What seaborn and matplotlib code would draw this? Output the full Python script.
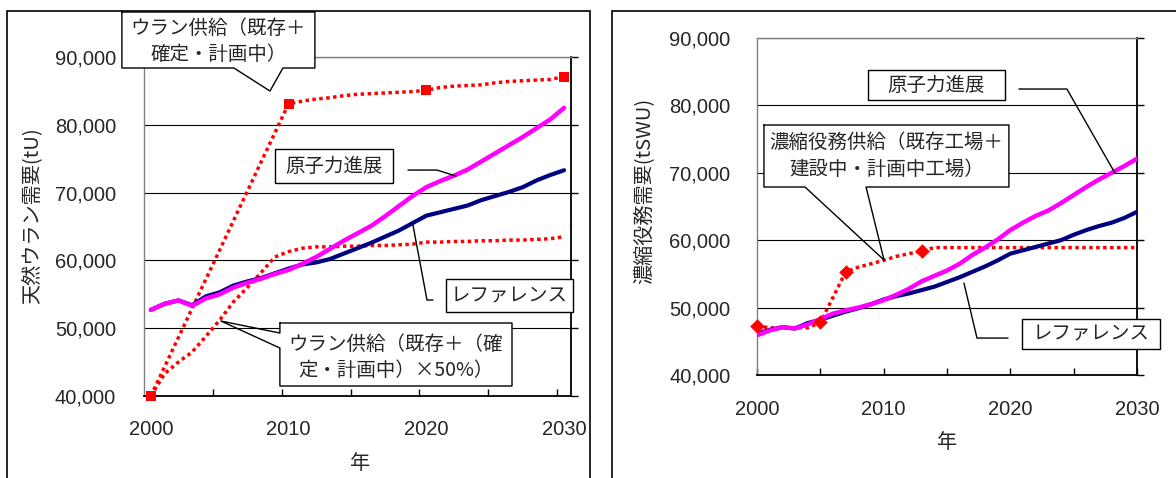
import matplotlib
matplotlib.use("Agg")
import matplotlib.pyplot as plt
import seaborn as sns
from matplotlib.patches import Rectangle
from matplotlib.lines import Line2D
from matplotlib.ticker import FixedLocator, StrMethodFormatter

# ---------------- data ----------------
years = list(range(2000, 2031))

# natural uranium demand (tU)
uranium_reference = [52700, 53600, 54100, 53400, 54700, 55300, 56300, 56900, 57400, 58100,
                     58800, 59400, 59700, 60200, 61000, 61800, 62600, 63500, 64400, 65500,
                     66600, 67100, 67600, 68100, 68900, 69500, 70100, 70800, 71800, 72600,
                     73300]
uranium_advanced = [52700, 53600, 54100, 53300, 54400, 55000, 56000, 56700, 57300, 58000,
                    58600, 59500, 60500, 61700, 62900, 64000, 65100, 66500, 68000, 69500,
                    70800, 71700, 72500, 73400, 74600, 75800, 77000, 78200, 79500, 80800,
                    82500]
uranium_supply_years = [2000] + list(range(2010, 2031))
uranium_supply = [40000,
                  83100, 83500, 83800, 84000, 84300, 84500, 84600, 84700, 84800, 84900,
                  85100, 85500, 85700, 85800, 85900, 86200, 86400, 86500, 86600, 86700,
                  87100]
uranium_supply_marker_years = [2000, 2010, 2020, 2030]
uranium_supply_half = [40000, 43300, 45000, 46500, 48800, 51200, 53900, 56000, 58200, 60500,
                       61300, 61800, 62000, 62000, 62100, 62100, 62200, 62200, 62300, 62400,
                       62700, 62700, 62800, 62800, 62900, 62900, 63000, 63000, 63100, 63200,
                       63500]

# enrichment service demand (tSWU)
enrich_reference = [46100, 46700, 47100, 46900, 47700, 48200, 48800, 49400, 49900, 50500,
                    51200, 51700, 52100, 52600, 53100, 53800, 54500, 55300, 56100, 57000,
                    58000, 58500, 59000, 59500, 60000, 60800, 61500, 62100, 62600, 63300,
                    64200]
enrich_advanced = [45900, 46600, 47100, 46900, 47500, 48300, 49100, 49600, 50000, 50500,
                   51100, 51900, 52800, 53900, 54700, 55500, 56500, 57800, 58900, 60100,
                   61500, 62600, 63600, 64400, 65500, 66700, 67900, 69000, 70000, 71000,
                   72100]
enrich_supply = [47300, 47000, 47000, 47000, 47000, 47800, 51500, 55300, 56000, 56500,
                 57000, 57600, 58000, 58400, 58900, 58900, 58900, 58900, 58900, 58900,
                 58900, 58900, 58900, 58900, 58900, 58900, 58900, 58900, 58900, 58900,
                 58900]
enrich_supply_marker_years = [2000, 2005, 2007, 2013]

y_ticks = [40000, 50000, 60000, 70000, 80000, 90000]
x_label_ticks = [2000, 2010, 2020, 2030]

NAVY = "#000080"
PINK = "#FF00FF"
RED = "#FF0000"
DOTS = (0, (1, 1))
CJK = ["Noto Sans CJK JP", "DejaVu Sans"]

# ---------------- style ----------------
sns.set_style("white")
plt.rcParams["font.family"] = ["Liberation Sans", "Noto Sans CJK JP", "DejaVu Sans"]

fig = plt.figure(figsize=(11.76, 4.78), dpi=100)
axL = fig.add_axes([0.1224, 0.1715, 0.3631, 0.7092])
axR = fig.add_axes([0.6437, 0.2155, 0.3231, 0.7050])

# panel frames
fig.add_artist(Rectangle((0.006, -0.1), 0.4957, 1.077, transform=fig.transFigure,
                         fill=False, edgecolor="black", linewidth=1.2))
fig.add_artist(Rectangle((0.5204, -0.1), 0.6, 1.077, transform=fig.transFigure,
                         fill=False, edgecolor="black", linewidth=1.2))


def style_axes(ax, ylabel, ylabel_pos, xlabel_pos, pad):
    ax.set_ylim(40000, 90000)
    ax.yaxis.set_major_locator(FixedLocator(y_ticks))
    ax.yaxis.set_major_formatter(StrMethodFormatter("{x:,.0f}"))
    ax.grid(axis="y", color="black", linewidth=0.8)
    ax.grid(axis="x", visible=False)
    for side in ["left", "top"]:
        ax.spines[side].set_color("#808080")
        ax.spines[side].set_linewidth(1.0)
    for side in ["right", "bottom"]:
        ax.spines[side].set_color("black")
        ax.spines[side].set_linewidth(1.3)
    ax.tick_params(axis="y", which="major", left=False, right=True, direction="out",
                   length=5, width=1, color="black", labelleft=True, labelright=False,
                   labelsize=14.5, pad=pad)
    ax.set_ylabel(ylabel, fontsize=14.5, family=CJK)
    ax.yaxis.label.set_va("center")
    ax.yaxis.set_label_coords(*ylabel_pos)
    ax.set_xlabel("年", fontsize=14.5, family=CJK)
    ax.xaxis.label.set_va("center")
    ax.xaxis.set_label_coords(*xlabel_pos)


def simple_box(ax, x0, x1, y0, y1, text, leader):
    ax.add_patch(Rectangle((x0, y0), x1 - x0, y1 - y0, facecolor="white",
                           edgecolor="black", linewidth=1.0, clip_on=False, zorder=6))
    ax.add_line(Line2D([p[0] for p in leader], [p[1] for p in leader], color="black",
                       linewidth=1.0, clip_on=False, zorder=6))
    ax.text((x0 + x1) / 2, (y0 + y1) / 2, text, ha="center", va="center", fontsize=14,
            family=CJK, zorder=8, linespacing=1.35)


def wedge_box(ax, x0, x1, y0, y1, text, outline, text_xy=None):
    ax.add_patch(Rectangle((x0, y0), x1 - x0, y1 - y0, facecolor="white",
                           edgecolor="none", clip_on=False, zorder=6))
    ax.add_line(Line2D([p[0] for p in outline], [p[1] for p in outline], color="black",
                       linewidth=1.0, clip_on=False, zorder=7))
    if text_xy is None:
        text_xy = ((x0 + x1) / 2, (y0 + y1) / 2)
    ax.text(text_xy[0], text_xy[1], text, ha="center", va="center", fontsize=14,
            family=CJK, zorder=8, linespacing=1.35)


# ---------------- left: natural uranium ----------------
sns.lineplot(x=years, y=uranium_supply_half, ax=axL, color=RED, linewidth=2.5,
             linestyle=DOTS, zorder=3)
sns.lineplot(x=uranium_supply_years, y=uranium_supply, ax=axL, color=RED, linewidth=2.5,
             linestyle=DOTS, zorder=3)
sns.lineplot(x=years, y=uranium_reference, ax=axL, color=NAVY, linewidth=3, zorder=4)
sns.lineplot(x=years, y=uranium_advanced, ax=axL, color=PINK, linewidth=3.2, zorder=4.5)
mk_vals = [uranium_supply[uranium_supply_years.index(y)] for y in uranium_supply_marker_years]
sns.scatterplot(x=uranium_supply_marker_years, y=mk_vals, ax=axL, marker="s", s=60,
                color=RED, edgecolor=RED, linewidth=0, zorder=5, clip_on=False)

axL.set_xlim(1999.5, 2030.5)
axL.xaxis.set_major_locator(FixedLocator(x_label_ticks))
axL.xaxis.set_minor_locator(FixedLocator([2004.5, 2009.5, 2014.5, 2019.5, 2024.5, 2029.5]))
axL.tick_params(axis="x", which="major", bottom=True, length=0, labelsize=14.5, pad=17)
axL.tick_params(axis="x", which="minor", bottom=True, direction="in", length=5, width=1,
                color="black")
style_axes(axL, "天然ウラン需要(tU)", (-0.262, 0.531), (0.506, -0.198), 15)

# callouts (left)
wedge_box(axL, 1997.9, 2011.91, 88380, 96640, "ウラン供給（既存＋\n確定・計画中）",
          [(1997.9, 96640), (2011.91, 96640), (2011.91, 88380), (2009.59, 88380),
           (2008.65, 84985), (2006.03, 88380), (1997.9, 88380), (1997.9, 96640)],
          text_xy=(2004.91, 92290))
simple_box(axL, 2009.01, 2017.58, 71415, 76430, "原子力進展",
           [(2018.67, 73330), (2020.77, 73330), (2022.15, 72450)])
simple_box(axL, 2021.43, 2030.65, 52390, 57260, "レファレンス",
           [(2020.48, 54160), (2020.05, 54160), (2019.03, 65220)])
wedge_box(axL, 2009.37, 2026.22, 41480, 50770, "ウラン供給（既存＋（確\n定・計画中）×50%）",
          [(2009.37, 50770), (2026.22, 50770), (2026.22, 41480), (2009.37, 41480),
           (2009.37, 47080), (2005.09, 51060), (2009.37, 49290), (2009.37, 50770)],
          text_xy=(2017.8, 45680))

# ---------------- right: enrichment ----------------
sns.lineplot(x=years, y=enrich_supply, ax=axR, color=RED, linewidth=2.5,
             linestyle=DOTS, zorder=3)
sns.lineplot(x=years, y=enrich_reference, ax=axR, color=NAVY, linewidth=3, zorder=4)
sns.lineplot(x=years, y=enrich_advanced, ax=axR, color=PINK, linewidth=3.2, zorder=4.5)
mk_vals = [enrich_supply[years.index(y)] for y in enrich_supply_marker_years]
sns.scatterplot(x=enrich_supply_marker_years, y=mk_vals, ax=axR, marker="D", s=55,
                color=RED, edgecolor=RED, linewidth=0, zorder=5, clip_on=False)

axR.set_xlim(2000, 2030)
axR.xaxis.set_major_locator(FixedLocator(x_label_ticks))
axR.xaxis.set_minor_locator(FixedLocator([2005, 2015, 2025]))
axR.tick_params(axis="x", which="both", bottom=True, direction="in", length=5, width=1,
                color="black")
axR.tick_params(axis="x", which="major", labelsize=14.5, pad=18)
style_axes(axR, "濃縮役務需要(tSWU)", (-0.295, 0.546), (0.5, -0.199), 14)

# callouts (right)
simple_box(axR, 2008.76, 2019.58, 80800, 85250, "原子力進展",
           [(2020.68, 82430), (2024.47, 82430), (2028.26, 69970)])
wedge_box(axR, 2000.55, 2019.89, 67890, 77090, "濃縮役務供給（既存工場＋\n建設中・計画中工場）",
          [(2000.55, 77090), (2019.89, 77090), (2019.89, 67890), (2008.61, 67890),
           (2010.03, 57060), (2003.79, 67890), (2000.55, 67890), (2000.55, 77090)])
simple_box(axR, 2020.92, 2031.82, 43850, 48300, "レファレンス",
           [(2019.82, 45480), (2017.37, 45480), (2016.34, 53640)])

fig.savefig("out.png", dpi=100)
